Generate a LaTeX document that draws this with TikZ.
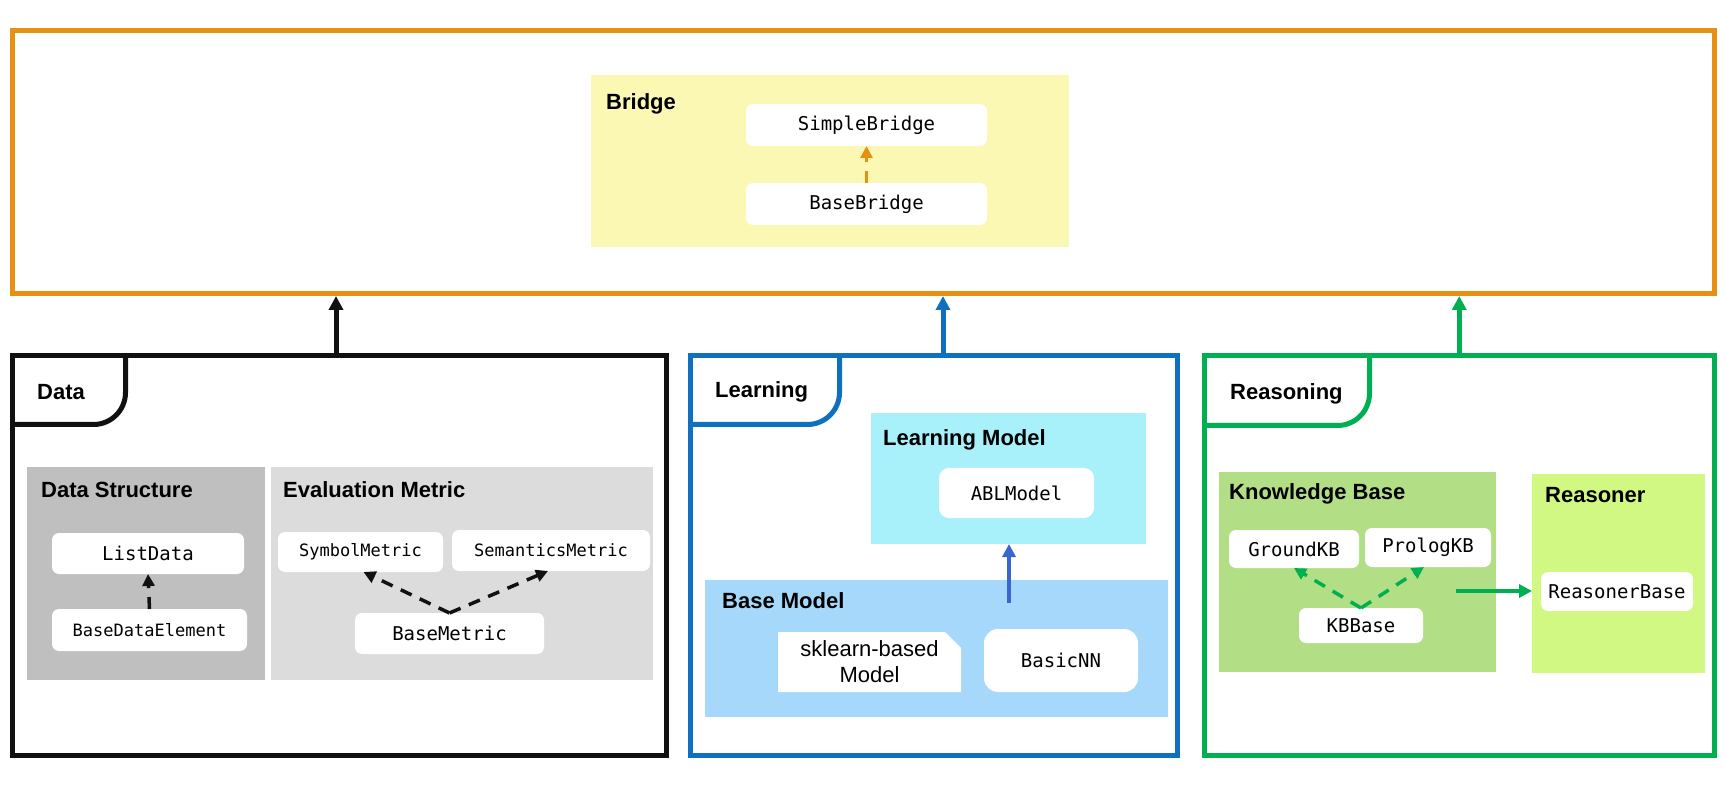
\documentclass[tikz,border=0pt]{standalone}
\usepackage{fontspec}
\setmainfont{Liberation Sans}
\newfontfamily\monof{DejaVu Sans Mono}
\usetikzlibrary{arrows.meta}
\definecolor{borange}{RGB}{230,145,18}
\definecolor{byellow}{RGB}{251,248,180}
\definecolor{dsgray}{RGB}{191,191,191}
\definecolor{emgray}{RGB}{220,220,220}
\definecolor{pblue}{RGB}{16,112,192}
\definecolor{lmcyan}{RGB}{168,240,250}
\definecolor{bmblue}{RGB}{165,216,250}
\definecolor{arrblue}{RGB}{58,102,208}
\definecolor{pgreen}{RGB}{0,176,80}
\definecolor{kbgreen}{RGB}{178,222,134}
\definecolor{rsgreen}{RGB}{208,248,130}
\definecolor{pblack}{RGB}{17,17,17}
\begin{document}
\begin{tikzpicture}[x=1pt,y=-1pt,
  panel/.style={draw, line width=5pt, inner sep=0pt, outer sep=0pt},
  tabline/.style={line width=5pt},
  area/.style={inner sep=0pt, outer sep=0pt, draw=none},
  cls/.style={fill=white, rounded corners=7pt, inner sep=0pt, outer sep=0pt, font=\monof\fontsize{19}{22}\selectfont},
  clss/.style={cls, font=\monof\fontsize{17}{20}\selectfont},
  head/.style={anchor=base west, inner sep=0pt, font=\bfseries\fontsize{22}{26}\selectfont},
  uparr/.style={line width=5pt, -{Triangle[length=14pt,width=14pt]}, shorten >=2.5pt},
  dasharr/.style={line width=3.5pt, dash pattern=on 12pt off 9pt, -{Triangle[length=12pt,width=12pt]}},
  solarr/.style={line width=4pt, -{Triangle[length=13pt,width=13pt]}}
]
\fill[white] (0,0) rectangle (1725,791);
\useasboundingbox (0,0) rectangle (1725,791);

% ---------- top: Bridge ----------
\node[panel, draw=borange, minimum width=1702pt, minimum height=263pt] (top) at (863.5,162) {};
\node[area, fill=byellow, minimum width=478pt, minimum height=172pt] (bridge) at (830,161) {};
\node[head] (bridgelbl) at (606,110) {Bridge};
\node[cls, minimum width=241pt, minimum height=42pt] (simple) at (866.5,125) {SimpleBridge};
\node[cls, minimum width=241pt, minimum height=42pt] (basebr) at (866.5,204) {BaseBridge};
\draw[dasharr, draw=borange] (basebr.north) -- (simple.south);

% ---------- Data ----------
\node[panel, draw=pblack, minimum width=654pt, minimum height=400pt] (data) at (339.5,555.5) {};
\draw[tabline, draw=pblack] ([xshift=113pt]data.north west) [rounded corners=32pt] -- ([xshift=113pt,yshift=-69pt]data.north west) -- ([yshift=-69pt]data.north west);
\node[head] (datalbl) at (37,400) {Data};
\node[area, fill=dsgray, minimum width=238pt, minimum height=213pt] (ds) at (146,573.5) {};
\node[area, fill=emgray, minimum width=382pt, minimum height=213pt] (em) at (462,573.5) {};
\node[head] (dslbl) at (41,497) {Data Structure};
\node[head] (emlbl) at (283,497) {Evaluation Metric};
\node[cls, minimum width=192pt, minimum height=41pt] (listdata) at (148,553.5) {ListData};
\node[clss, minimum width=195pt, minimum height=42pt] (bde) at (149.5,630) {BaseDataElement};
\draw[dasharr, draw=pblack] (bde.north) -- (listdata.south);
\node[clss, minimum width=165pt, minimum height=40pt] (symm) at (360.5,552) {SymbolMetric};
\node[clss, minimum width=198pt, minimum height=41pt] (semm) at (551,550.5) {SemanticsMetric};
\node[cls, minimum width=189pt, minimum height=41pt] (basem) at (449.5,633.5) {BaseMetric};
\draw[dasharr, draw=pblack] (basem.north) -- ([xshift=3pt]symm.south);
\draw[dasharr, draw=pblack] (basem.north) -- ([xshift=-3pt]semm.south);

% ---------- Learning ----------
\node[panel, draw=pblue, minimum width=487pt, minimum height=400pt] (learn) at (934,555.5) {};
\draw[tabline, draw=pblue] ([xshift=149pt]learn.north west) [rounded corners=32pt] -- ([xshift=149pt,yshift=-69pt]learn.north west) -- ([yshift=-69pt]learn.north west);
\node[head] (learnlbl) at (715,398) {Learning};
\node[area, fill=lmcyan, minimum width=275pt, minimum height=131pt] (lm) at (1008.5,478.5) {};
\node[head] (lmlbl) at (883,446) {Learning Model};
\node[cls, rounded corners=10pt, minimum width=155pt, minimum height=50pt] (abl) at (1016.5,493) {ABLModel};
\node[area, fill=bmblue, minimum width=463pt, minimum height=137pt] (bm) at (936.5,648.5) {};
\node[head] (bmlbl) at (722,608) {Base Model};
\fill[white] (778,632) -- (945,632) -- (961,648) -- (961,692) -- (778,692) -- cycle;
\node[align=center, inner sep=0pt, font=\fontsize{22}{26}\selectfont] (sk) at (869.5,662) {sklearn-based\\Model};
\node[cls, rounded corners=14pt, minimum width=154pt, minimum height=63pt] (basicnn) at (1061,660.5) {BasicNN};
\coordinate (bstart) at (1009,603);
\draw[solarr, draw=arrblue] (bstart) -- (bstart |- lm.south);

% ---------- Reasoning ----------
\node[panel, draw=pgreen, minimum width=510.5pt, minimum height=399.5pt] (reas) at (1459.25,555.75) {};
\draw[tabline, draw=pgreen] ([xshift=165.5pt]reas.north west) [rounded corners=32pt] -- ([xshift=165.5pt,yshift=-69.5pt]reas.north west) -- ([yshift=-69.5pt]reas.north west);
\node[head] (reaslbl) at (1230,400) {Reasoning};
\node[area, fill=kbgreen, minimum width=277pt, minimum height=200pt] (kb) at (1357.5,572) {};
\node[head] (kblbl) at (1229,500) {Knowledge Base};
\node[cls, minimum width=130pt, minimum height=38pt] (ground) at (1294,549) {GroundKB};
\node[cls, minimum width=126pt, minimum height=39pt] (prolog) at (1428,547.5) {PrologKB};
\node[cls, minimum width=124pt, minimum height=35pt] (kbbase) at (1361,625.5) {KBBase};
\draw[dasharr, draw=pgreen] (kbbase.north) -- (ground.south);
\draw[dasharr, draw=pgreen] (kbbase.north) -- ([xshift=-4pt]prolog.south);
\node[area, fill=rsgreen, minimum width=173pt, minimum height=199pt] (rs) at (1618.5,573.5) {};
\node[head] (rslbl) at (1545,503) {Reasoner};
\node[cls, minimum width=152pt, minimum height=39pt] (rbase) at (1617,591.5) {ReasonerBase};
\coordinate (gstart) at (1456,591);
\draw[solarr, draw=pgreen] (gstart) -- (gstart -| rs.west);

% ---------- panel arrows ----------
\draw[uparr, draw=pblack] ([xshift=-3.5pt]data.north) -- ([xshift=-3.5pt]data.north |- top.south);
\draw[uparr, draw=pblue] ([xshift=9pt]learn.north) -- ([xshift=9pt]learn.north |- top.south);
\draw[uparr, draw=pgreen] (reas.north) -- (reas.north |- top.south);
\end{tikzpicture}
\end{document}
